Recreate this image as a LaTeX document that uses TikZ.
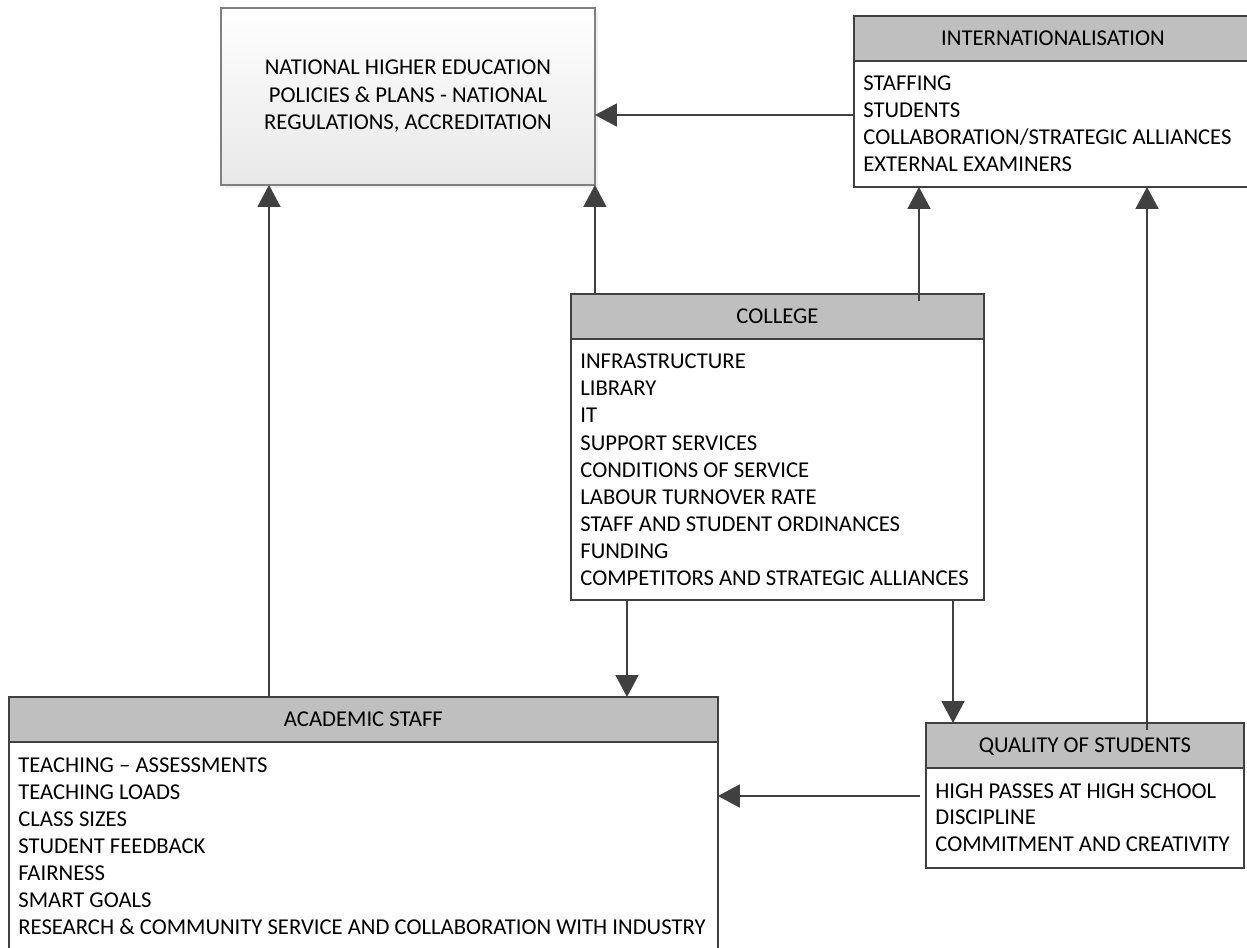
\documentclass[tikz,border=0pt]{standalone}
\usepackage{fontspec}
\setmainfont{Carlito}
\usepackage{tikz}
\usetikzlibrary{arrows.meta,positioning,calc,shadows}
\usepackage{xcolor}
\definecolor{boxline}{HTML}{404040}
\definecolor{hdrgray}{HTML}{BFBFBF}
\definecolor{natline}{HTML}{808080}

\begin{document}
\begin{tikzpicture}[x=0.02cm,y=-0.02cm,
    >={Triangle[length=12.5pt,width=13pt]},
    conn/.style={->,line width=1.2pt,draw=boxline},
    hdr/.style={draw=boxline,line width=0.9pt,fill=hdrgray,anchor=north west,inner sep=0pt,outer sep=0pt,
                minimum height=0.9cm,font=\fontsize{12.9}{15}\selectfont,text height=8.3pt,text depth=0pt},
    bodybox/.style={draw=boxline,line width=0.9pt,fill=white,inner sep=0pt,outer sep=0pt},
    item/.style={anchor=base west,inner sep=0pt,font=\fontsize{12.9}{15}\selectfont},
    natbox/.style={draw=natline,line width=0.8pt,top color=white,bottom color=black!9,
                   drop shadow={shadow xshift=2pt,shadow yshift=-2pt,fill=black!12},
                   align=center,font=\fontsize{12.9}{15.6}\selectfont,outer sep=0pt}]
\useasboundingbox (0,0) rectangle (1247,947);
% ===== national policies box =====
\node[natbox,minimum width=7.48cm,minimum height=3.54cm,anchor=north west] (nat) at (221,8)
  {NATIONAL HIGHER EDUCATION\\POLICIES \& PLANS - NATIONAL\\REGULATIONS, ACCREDITATION};
% ===== internationalisation =====
\node[hdr,minimum width=7.96cm] (intlh) at (854,16) {INTERNATIONALISATION};
\node[bodybox,minimum width=7.96cm,minimum height=2.52cm,below=0pt of intlh] (intlb) {};
\foreach \t [count=\i from 0] in {STAFFING,STUDENTS,COLLABORATION/STRATEGIC ALLIANCES,EXTERNAL EXAMINERS}
  \node[item] (intl-\i) at ($(intlb.north west)+(9,{30+27*\i})$) {\t};
% ===== college =====
\node[hdr,minimum width=8.26cm] (colh) at (571,294) {COLLEGE};
\node[bodybox,minimum width=8.26cm,minimum height=5.22cm,below=0pt of colh] (colb) {};
\foreach \t [count=\i from 0] in {INFRASTRUCTURE,LIBRARY,IT,SUPPORT SERVICES,CONDITIONS OF SERVICE,
    LABOUR TURNOVER RATE,STAFF AND STUDENT ORDINANCES,FUNDING,COMPETITORS AND STRATEGIC ALLIANCES}
  \node[item] (col-\i) at ($(colb.north west)+(9,{30+27*\i})$) {\t};
% ===== academic staff =====
\node[hdr,minimum width=14.18cm] (acadh) at (9,697) {ACADEMIC STAFF};
\node[bodybox,minimum width=14.18cm,minimum height=4.5cm,below=0pt of acadh] (acadb) {};
\foreach \t [count=\i from 0] in {TEACHING -- ASSESSMENTS,TEACHING LOADS,CLASS SIZES,STUDENT FEEDBACK,
    FAIRNESS,SMART GOALS,RESEARCH \& COMMUNITY SERVICE AND COLLABORATION WITH INDUSTRY}
  \node[item] (acad-\i) at ($(acadb.north west)+(9,{30+27*\i})$) {\t};
% ===== quality of students =====
\node[hdr,minimum width=6.36cm] (qh) at (926,723) {QUALITY OF STUDENTS};
\node[bodybox,minimum width=6.36cm,minimum height=2.0cm,below=0pt of qh] (qb) {};
\foreach \t [count=\i from 0] in {HIGH PASSES AT HIGH SCHOOL,DISCIPLINE,COMMITMENT AND CREATIVITY}
  \node[item] (q-\i) at ($(qb.north west)+(9,{30+26.5*\i})$) {\t};
% ===== connectors =====
\coordinate (i2n) at ($(intlb.north west)+(0,54)$);
\coordinate (c2i) at ($(intlb.south west)+(65,0)$);
\coordinate (q2i) at ($(intlb.south west)+(293,0)$);
\coordinate (a2n) at ($(nat.south west)+(48,0)$);
\coordinate (a0)  at ($(acadh.north west)+(228,0)$);
\coordinate (c2a) at ($(colb.south west)+(56,0)$);
\coordinate (c2q) at ($(colb.south west)+(382,0)$);
\coordinate (q2a) at ($(qb.north west)+(-6,28)$);
\draw[conn] (i2n) -- (nat.east |- i2n);
\draw[conn] (nat.south east |- colh.north) -- (nat.south east);
\draw[conn] (a0) -- (a2n |- acadh.north) -- (a2n);
\draw[conn] (c2i |- colh.north) ++(0,7) -- (c2i);
\draw[conn] (q2i |- qh.north) ++(0,7) -- (q2i);
\draw[conn] (c2a) -- (c2a |- acadh.north);
\draw[conn] (c2q) -- (c2q |- qh.north);
\draw[conn] (q2a) -- (acadb.east |- q2a);
\end{tikzpicture}
\end{document}
